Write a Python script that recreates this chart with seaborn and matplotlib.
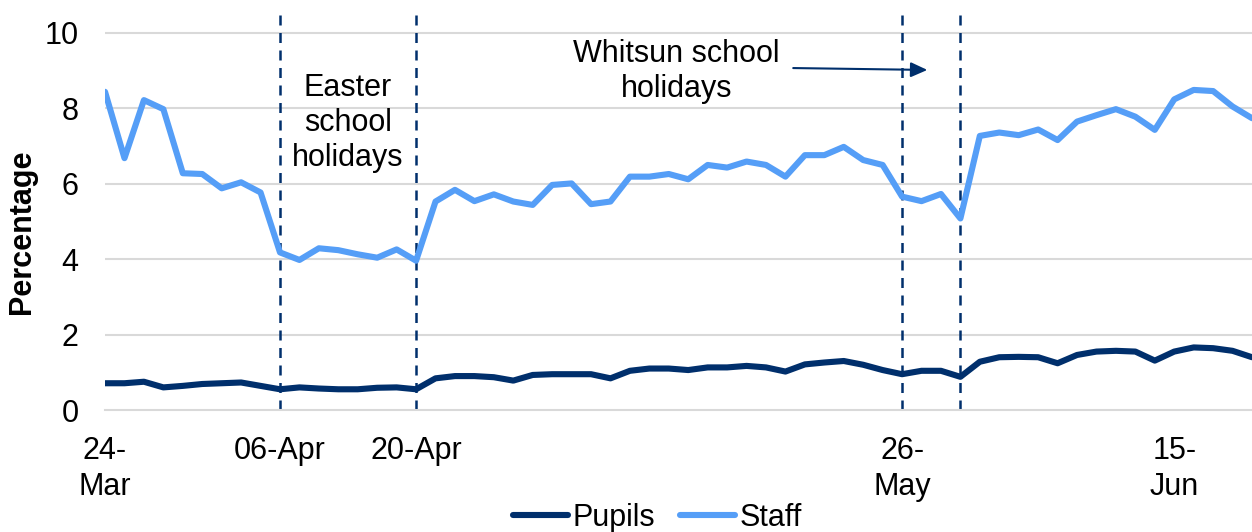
import pandas as pd
import seaborn as sns
import matplotlib.pyplot as plt

# school days shown on the chart
dates = ["24-Mar", "25-Mar", "26-Mar", "27-Mar", "30-Mar", "31-Mar",
         "01-Apr", "02-Apr", "03-Apr", "06-Apr", "07-Apr", "08-Apr", "09-Apr",
         "14-Apr", "15-Apr", "16-Apr", "20-Apr", "21-Apr", "22-Apr", "23-Apr",
         "24-Apr", "27-Apr", "28-Apr", "29-Apr", "30-Apr", "01-May", "04-May",
         "05-May", "06-May", "07-May", "08-May", "11-May", "12-May", "13-May",
         "14-May", "15-May", "18-May", "19-May", "20-May", "21-May", "22-May",
         "26-May", "27-May", "28-May", "29-May", "01-Jun", "02-Jun", "03-Jun",
         "04-Jun", "05-Jun", "08-Jun", "09-Jun", "10-Jun", "11-Jun", "12-Jun",
         "15-Jun", "16-Jun", "17-Jun", "18-Jun", "19-Jun"]

pupils = [0.71, 0.71, 0.75, 0.60, 0.64, 0.69, 0.71, 0.73, 0.64, 0.55,
          0.60, 0.57, 0.55, 0.55, 0.59, 0.60, 0.55, 0.84, 0.90, 0.90,
          0.87, 0.78, 0.93, 0.95, 0.95, 0.95, 0.84, 1.04, 1.10, 1.10,
          1.06, 1.13, 1.13, 1.17, 1.13, 1.02, 1.21, 1.26, 1.30, 1.20,
          1.06, 0.95, 1.04, 1.04, 0.88, 1.28, 1.40, 1.41, 1.40, 1.24,
          1.46, 1.55, 1.57, 1.55, 1.31, 1.55, 1.66, 1.64, 1.57, 1.40]

staff = [8.44, 6.68, 8.22, 7.98, 6.28, 6.26, 5.88, 6.04, 5.77, 4.18,
         3.98, 4.29, 4.24, 4.13, 4.04, 4.26, 3.96, 5.53, 5.84, 5.54,
         5.72, 5.53, 5.44, 5.97, 6.01, 5.46, 5.53, 6.19, 6.19, 6.26,
         6.12, 6.50, 6.43, 6.59, 6.50, 6.19, 6.76, 6.76, 6.98, 6.63,
         6.50, 5.66, 5.54, 5.73, 5.08, 7.27, 7.36, 7.29, 7.44, 7.16,
         7.65, 7.82, 7.98, 7.78, 7.43, 8.24, 8.49, 8.46, 8.05, 7.74]

tick_labels = {"24-Mar": "24-\nMar", "06-Apr": "06-Apr", "20-Apr": "20-Apr",
               "26-May": "26-\nMay", "15-Jun": "15-\nJun"}
holiday_edges = ["06-Apr", "20-Apr", "26-May", "29-May"]

navy = "#002F6C"
light = "#559EF7"

sns.set_style("white")
plt.rcParams['font.family'] = ['Liberation Sans', 'DejaVu Sans']
plt.rcParams['text.color'] = 'black'
plt.rcParams['xtick.labelcolor'] = 'black'
plt.rcParams['ytick.labelcolor'] = 'black'
plt.rcParams['axes.labelcolor'] = 'black'

df = pd.DataFrame({
    "day": list(range(len(dates))) * 2,
    "value": pupils + staff,
    "group": ["Pupils"] * len(dates) + ["Staff"] * len(dates),
})

fig = plt.figure(figsize=(12.52, 5.32), dpi=100)
ax = fig.add_axes([0.0839, 0.2293, 0.9161, 0.7512])

for y in range(2, 11, 2):
    ax.axhline(y, color="#d9d9d9", lw=1.5, zorder=0)

sns.lineplot(data=df, x="day", y="value", hue="group",
             palette={"Pupils": navy, "Staff": light},
             lw=4.4, ax=ax, legend=False, zorder=3)

for d in holiday_edges:
    ax.axvline(dates.index(d), ymin=0, ymax=1, color=navy, lw=1.8,
               ls=(0, (4, 3)), zorder=2)

ax.set_xlim(0, len(dates) - 1)
ax.set_ylim(0, 10.6)
ax.set_yticks(range(0, 11, 2))
ax.set_xticks(range(len(dates)))
ax.set_xticklabels([tick_labels.get(d, "") for d in dates], fontsize=22,
                   multialignment="center", va="top", linespacing=1.25)
ax.tick_params(axis="x", length=8, width=1.5, color="#d9d9d9", pad=11)
ax.tick_params(axis="y", length=0, labelsize=22, pad=19)
for s in ["top", "right", "left"]:
    ax.spines[s].set_visible(False)
ax.spines["bottom"].set_color("#d9d9d9")
ax.spines["bottom"].set_linewidth(1.5)

ax.set_xlabel("")
ax.set_ylabel("Percentage", fontsize=22, fontweight="bold")
ax.yaxis.set_label_coords(-0.059, 0.445)

ax.text(12.5, 7.62, "Easter\nschool\nholidays", fontsize=22, ha="center",
        va="center", linespacing=1.22)
ax.text(29.4, 8.98, "Whitsun school\nholidays", fontsize=22, ha="center",
        va="center", linespacing=1.22)
ax.annotate("", xy=(42.3, 9.02), xytext=(35.4, 9.07),
            arrowprops=dict(arrowstyle="-|>,head_length=1.0,head_width=0.45",
                            color=navy, lw=1.5, shrinkA=0, shrinkB=0))

handles = [plt.Line2D([], [], color=navy, lw=4.4),
           plt.Line2D([], [], color=light, lw=4.4)]
fig.legend(handles, ["Pupils", "Staff"], loc="center",
           bbox_to_anchor=(0.525, 0.027), ncol=2, frameon=False, fontsize=22,
           handlelength=1.8, handletextpad=0.15, columnspacing=0.8)

fig.savefig("out.png", dpi=100)
